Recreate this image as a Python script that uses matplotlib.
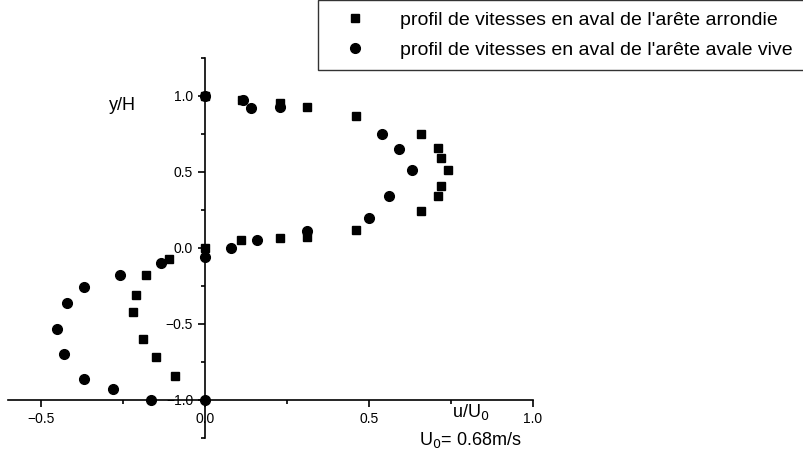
import matplotlib
matplotlib.use("Agg")
import matplotlib.pyplot as plt
from matplotlib.ticker import MultipleLocator

sq_u = [0, 0.113, 0.23, 0.31, 0.46, 0.66, 0.71, 0.72, 0.74, 0.72, 0.71, 0.66, 0.46, 0.31, 0.23, 0.11, 0, -0.11, -0.18, -0.21, -0.22, -0.19, -0.15, -0.09]
sq_y = [1.0, 0.97, 0.95, 0.93, 0.87, 0.75, 0.66, 0.59, 0.51, 0.41, 0.34, 0.24, 0.12, 0.07, 0.065, 0.05, 0.0, -0.07, -0.18, -0.31, -0.42, -0.60, -0.72, -0.84]
ci_u = [0, 0.115, 0.14, 0.23, 0.54, 0.59, 0.63, 0.56, 0.50, 0.31, 0.16, 0.08, 0, -0.135, -0.26, -0.37, -0.42, -0.45, -0.43, -0.37, -0.28, -0.165, 0]
ci_y = [1.0, 0.97, 0.92, 0.93, 0.75, 0.65, 0.51, 0.34, 0.20, 0.11, 0.05, 0.0, -0.06, -0.10, -0.18, -0.26, -0.36, -0.53, -0.70, -0.86, -0.93, -1.0, -1.0]

plt.rcParams['font.family'] = ['Liberation Sans', 'DejaVu Sans']
fig = plt.figure(figsize=(8.04, 4.63), dpi=100)
ax = fig.add_axes([0.01, 0.054, 0.653, 0.821])
ax.plot(sq_u, sq_y, 's', color='black', ms=6, label="profil de vitesses en aval de l'arête arrondie", clip_on=False)
ax.plot(ci_u, ci_y, 'o', color='black', ms=7, label="profil de vitesses en aval de l'arête avale vive", clip_on=False)
ax.set_xlim(-0.6, 1.0)
ax.set_ylim(-1.25, 1.25)
for s in ['top', 'right']:
    ax.spines[s].set_visible(False)
ax.spines['left'].set_position(('data', 0))
ax.spines['bottom'].set_position(('data', -1.0))
ax.spines['left'].set_linewidth(1.2)
ax.spines['bottom'].set_linewidth(1.2)
ax.xaxis.set_minor_locator(MultipleLocator(0.25))
ax.yaxis.set_minor_locator(MultipleLocator(0.25))
ax.set_yticks([-1.0, -0.5, 0.0, 0.5, 1.0])
ax.set_xticks([-0.5, 0.0, 0.5, 1.0])
ax.tick_params(which='major', length=5, width=1.2, labelsize=10, direction='out')
ax.tick_params(which='minor', length=3, width=1.2, direction='out')
ax.text(-0.25, 0.94, 'y/H', fontsize=13, ha='center', va='center')
ax.text(0.81, -1.08, r'u/U$_0$', fontsize=13, ha='center', va='center')
ax.text(0.81, -1.26, r'U$_0$= 0.68m/s', fontsize=13, ha='center', va='center')
leg = ax.legend(loc='upper right', bbox_to_anchor=(1.0, 1.0), bbox_transform=fig.transFigure,
                frameon=True, fancybox=False, edgecolor='black', fontsize=14, borderaxespad=0.0,
                handletextpad=1.0, labelspacing=0.6, borderpad=0.6, handlelength=2.6)
leg.get_frame().set_linewidth(1.0)
fig.savefig('out.png', dpi=100)
